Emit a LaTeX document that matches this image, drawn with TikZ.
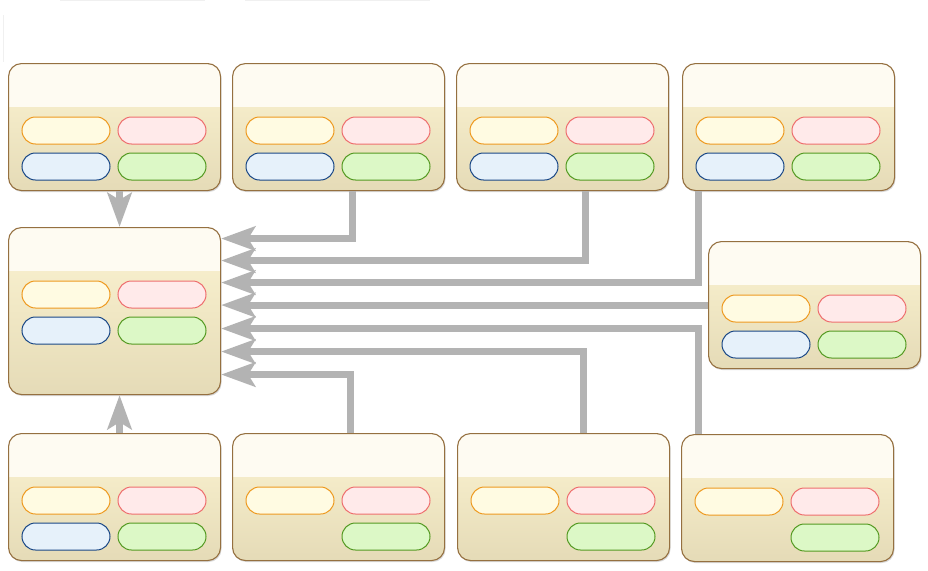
\documentclass[tikz,border=0pt]{standalone}
\usepackage{tikz}
\usetikzlibrary{calc,arrows.meta,shadows,shapes.misc}
\definecolor{panelline}{HTML}{957040}
\definecolor{panelhead}{HTML}{FEFBF2}
\definecolor{paneltop}{HTML}{FCF4D2}
\definecolor{panelbot}{HTML}{E5DBB7}
\definecolor{yelline}{HTML}{EE9A20}
\definecolor{yelfill}{HTML}{FFFBE2}
\definecolor{redline}{HTML}{EE6E6E}
\definecolor{redfill}{HTML}{FFEAEA}
\definecolor{bluline}{HTML}{1A4886}
\definecolor{blufill}{HTML}{E6F1FA}
\definecolor{grnline}{HTML}{549A22}
\definecolor{grnfill}{HTML}{DCF8C6}
\definecolor{linkgray}{HTML}{B3B3B3}
\tikzset{
  panel/.style={draw=panelline, line width=1.1pt, rounded corners=13pt,
    minimum width=212pt, top color=paneltop, bottom color=panelbot,
    drop shadow={shadow xshift=1pt, shadow yshift=-1.5pt, opacity=0.3},
    path picture={\fill[panelhead, sharp corners] (path picture bounding box.north west)
      rectangle ([yshift=-43pt]path picture bounding box.north east);}},
  pill/.style={rounded rectangle, line width=1pt, minimum width=88pt, minimum height=27pt, inner sep=0pt},
  pillyel/.style={pill, draw=yelline, fill=yelfill},
  pillred/.style={pill, draw=redline, fill=redfill},
  pillblu/.style={pill, draw=bluline, fill=blufill},
  pillgrn/.style={pill, draw=grnline, fill=grnfill},
  link/.style={draw=linkgray, line width=7pt,
    -{Stealth[length=34pt, width=24pt, inset=7pt]}}
}
% name, left, top, height
\newcommand{\panel}[4]{%
  \node[panel, minimum height=#4pt, anchor=north west] (#1) at (#2, #3) {};
  \node[pillyel] (#1y) at ($(#1.north west)+(58, 67.5)$) {};
  \node[pillred] (#1r) at ($(#1.north west)+(154, 67.5)$) {};
  \node[pillgrn] (#1g) at ($(#1.north west)+(154, 103.5)$) {};
}
\newcommand{\bluepill}[1]{\node[pillblu] (#1b) at ($(#1.north west)+(58, 103.5)$) {};}

\begin{document}
\begin{tikzpicture}[x=1pt, y=-1pt]
		%%%%% START %%%%%
		\useasboundingbox[fill=white] (0, 0) rectangle (928, 570);
		
		\draw[black!6] (60, 0.5) -- (205, 0.5);
		\draw[black!6] (245, 0.5) -- (430, 0.5);
		\draw[black!6] (3, 15) -- (3, 62);
		
		% top row
		\panel{t1}{8}{63}{127} \bluepill{t1}
		\panel{t2}{232}{63}{127} \bluepill{t2}
		\panel{t3}{456}{63}{127} \bluepill{t3}
		\panel{t4}{682}{63}{127} \bluepill{t4}
		
		% middle
		\panel{m}{8}{227}{167} \bluepill{m}
		\panel{r}{708}{241}{127} \bluepill{r}
		
		% bottom row
		\panel{b1}{8}{433}{127} \bluepill{b1}
		\panel{b2}{232}{433}{127}
		\panel{b3}{457}{433}{127}
		\panel{b4}{681}{434}{127}
		
		\draw[link] ([xshift=5pt]t1.south) -- ([xshift=5pt]m.north);
		\draw[link] ([xshift=5pt]b1.north) -- ([xshift=5pt]m.south);
		
		\draw[link] ([xshift=14pt]t2.south) |- ([yshift=72.5pt]m.east);
		\draw[link] ([xshift=22.5pt]t3.south) |- ([yshift=50.5pt]m.east);
		\draw[link] ([xshift=16pt]t4.south west) |- ([yshift=28.5pt]m.east);
		\draw[link] (r.west) -- (r.west -| m.east);
		\draw[link] ([xshift=17pt]b4.north west) |- ([yshift=-17.5pt]m.east);
		\draw[link] ([xshift=20pt]b3.north) |- ([yshift=-40.5pt]m.east);
		\draw[link] ([xshift=12pt]b2.north) |- ([yshift=-63.5pt]m.east);
		
		%%%%% END %%%%%
\end{tikzpicture}
\end{document}
